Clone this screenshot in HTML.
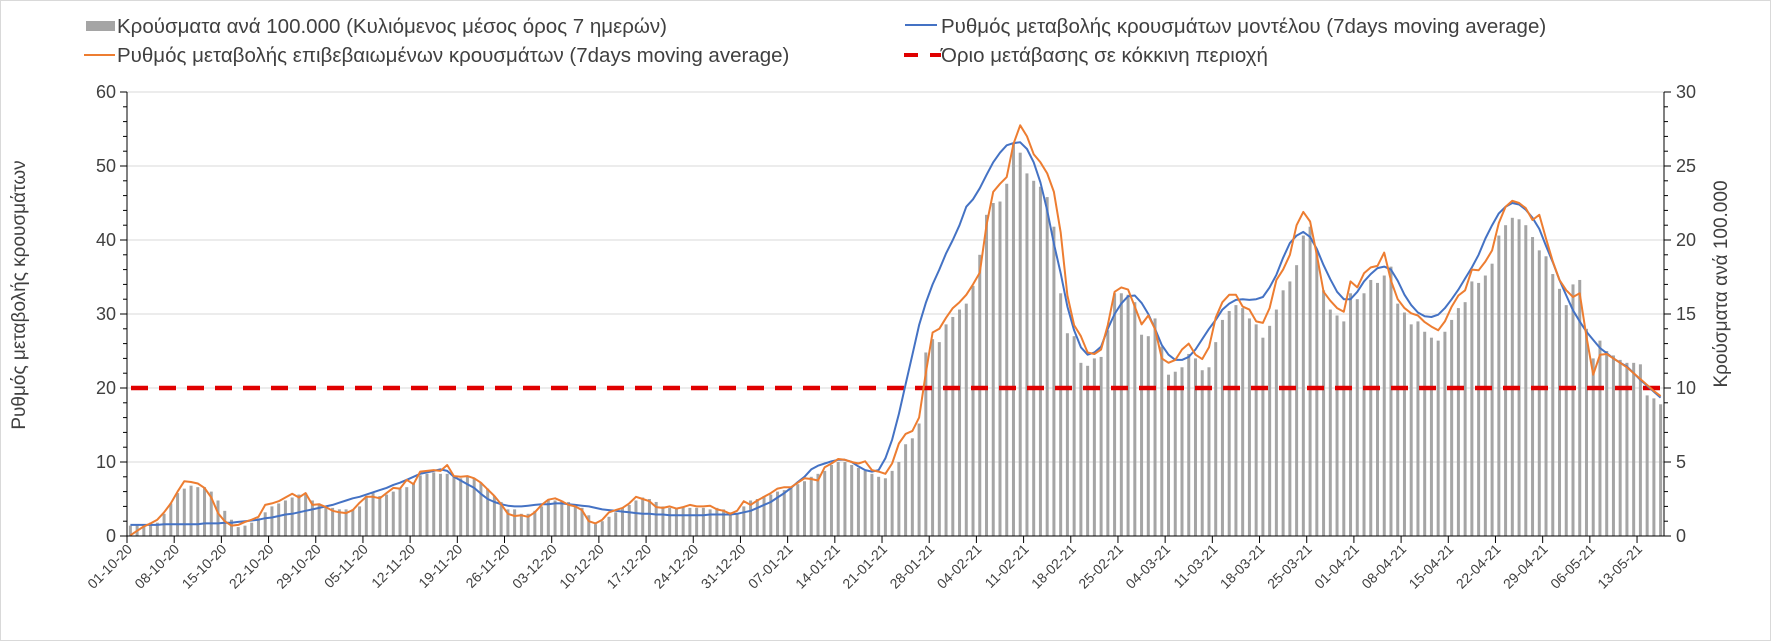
<!DOCTYPE html>
<html><head><meta charset="utf-8"><style>
html,body{margin:0;padding:0;background:#fff;}
#wrap{position:relative;width:1771px;height:641px;overflow:hidden;}
svg text{font-family:"Liberation Sans","DejaVu Sans",sans-serif;fill:#404040;}
</style></head><body>
<div id="wrap">
<svg id="chart" width="1771" height="641" xmlns="http://www.w3.org/2000/svg">
<rect x="0.5" y="0.5" width="1770" height="640" fill="#fff" stroke="#d9d9d9"/>
<g id="grid"></g>
<g id="bars"></g>
<g id="lines"></g>
<g id="axes"></g>
<g id="legend">
  <g>
    <rect x="86" y="21" width="29" height="10" fill="#a5a5a5"/>
    <text x="117" y="33" font-size="20.5">Κρούσματα ανά 100.000 (Κυλιόμενος μέσος όρος 7 ημερών)</text>
  </g>
  <g>
    <line x1="905" y1="25" x2="937" y2="25" stroke="#4472c4" stroke-width="2"/>
    <text x="941" y="33" font-size="20.5">Ρυθμός μεταβολής κρουσμάτων μοντέλου (7days moving average)</text>
  </g>
  <g>
    <line x1="84" y1="55" x2="115" y2="55" stroke="#ed7d31" stroke-width="2"/>
    <text x="117" y="62" font-size="20.5">Ρυθμός μεταβολής επιβεβαιωμένων κρουσμάτων (7days moving average)</text>
  </g>
  <g>
    <line x1="904" y1="55" x2="941" y2="55" stroke="#e00000" stroke-width="4" stroke-dasharray="14,12"/>
    <text x="941" y="62" font-size="20.5">Όριο μετάβασης σε κόκκινη περιοχή</text>
  </g>
</g>
<text x="0" y="0" font-size="19" text-anchor="middle" transform="translate(25,295) rotate(-90)">Ρυθμός μεταβολής κρουσμάτων</text>
<text x="0" y="0" font-size="19" text-anchor="middle" transform="translate(1727,284) rotate(-90)">Κρούσματα ανά 100.000</text>
</svg>
</div>
<script>
const cases = [0.7,0.8,0.8,0.9,0.9,1.5,2.2,2.9,3.2,3.4,3.3,3.3,3.0,2.4,1.7,1.1,0.6,0.7,0.9,1.2,1.6,2.0,2.2,2.4,2.6,2.8,2.9,2.4,2.2,2.0,1.9,1.8,1.8,1.8,2.0,2.7,2.9,2.7,2.8,3.0,3.2,3.3,3.6,4.1,4.2,4.3,4.2,4.2,4.0,3.9,4.0,3.9,3.6,3.2,2.7,2.3,1.8,1.8,1.5,1.5,1.7,2.0,2.4,2.4,2.4,2.3,2.0,1.9,1.4,0.8,1.0,1.3,1.6,1.9,2.1,2.4,2.6,2.5,2.3,2.0,1.9,1.9,2.0,1.9,1.9,1.9,1.8,1.9,1.8,1.6,1.5,2.0,2.4,2.5,2.7,2.8,3.0,3.1,3.3,3.5,
3.7,4.0,4.2,4.4,4.8,5.0,5.0,4.8,4.6,4.4,4.2,4.0,3.9,4.4,5.0,6.2,6.6,7.6,12.4,13.3,13.1,14.3,14.8,15.3,15.7,16.9,19.0,21.7,22.5,22.6,23.8,26.5,25.9,24.5,24.0,23.6,22.9,20.9,16.4,13.7,13.5,11.7,11.5,12.0,12.1,13.9,16.4,
16.4,16.3,15.8,13.6,13.5,14.7,12.8,10.9,11.1,11.4,12.3,12.0,11.2,11.4,13.1,14.6,15.2,15.6,15.4,14.7,14.3,13.4,14.2,15.3,16.6,17.2,18.3,20.3,20.9,19.3,16.6,15.3,14.9,14.5,16.4,16.0,16.4,17.3,17.1,17.6,18.2,15.7,15.1,14.3,14.5,13.8,13.4,13.2,13.8,14.6,15.4,
15.8,17.2,17.1,17.6,18.4,20.3,21.0,21.5,21.4,21.0,20.2,19.3,18.9,17.7,16.7,15.6,17.0,17.3,14.0,12.0,13.2,12.5,12.2,11.9,11.7,11.7,11.6,9.5,9.3,8.9];
const confirmed = [0.1,0.7,1.3,1.7,2.2,3.2,4.4,6.0,7.4,7.3,7.1,6.5,5.2,3.1,2.0,1.4,1.5,1.9,2.2,2.6,4.2,4.4,4.7,5.2,5.7,5.2,5.8,4.2,4.3,3.9,3.4,3.2,3.1,3.5,4.5,5.3,5.3,5.1,5.8,6.5,6.4,7.6,7.0,8.7,8.8,8.9,8.8,9.6,8.1,8.0,8.1,7.8,7.2,6.3,5.4,4.3,3.0,2.7,2.8,2.6,3.2,4.2,4.9,5.1,4.7,4.2,4.0,3.5,2.0,1.7,2.2,3.2,3.5,3.8,4.4,5.3,5.0,4.7,3.9,3.8,4.0,3.7,3.9,4.2,4.0,4.0,4.1,3.6,3.4,3.0,3.4,4.7,4.2,4.8,5.3,5.8,6.4,6.6,6.6,7.2,
7.8,7.7,7.5,9.3,9.8,10.4,10.3,10.0,9.8,10.1,8.9,8.7,8.4,9.8,12.5,13.8,14.2,16.0,22.0,27.5,28.0,29.5,30.8,31.6,32.6,34.0,35.6,42.0,46.5,47.6,48.5,53.0,55.5,54.0,51.6,50.5,49.0,46.5,41.0,32.5,28.5,27.0,24.8,24.6,25.2,28.5,33.0,
33.6,33.3,31.0,28.6,29.8,28.0,24.0,23.4,23.8,25.2,26.0,24.5,23.9,25.5,29.5,31.6,32.6,32.6,31.0,30.6,29.0,28.8,30.8,34.6,36.0,38.0,42.0,43.8,42.5,38.0,33.0,31.8,30.8,30.3,34.4,33.6,35.5,36.3,36.5,38.3,34.5,32.0,30.8,30.1,29.8,28.9,28.3,27.8,29.0,31.0,32.5,
33.2,36.0,35.9,37.1,38.6,42.3,44.5,45.3,45.0,44.3,42.7,43.4,40.2,37.1,34.6,33.2,32.3,32.8,26.9,21.8,24.5,24.6,24.0,23.4,22.8,22.0,21.2,20.4,19.6,18.9];
const model = [1.5,1.5,1.5,1.5,1.5,1.6,1.6,1.6,1.6,1.6,1.6,1.7,1.7,1.7,1.8,1.8,1.9,2.0,2.1,2.2,2.4,2.5,2.7,2.9,3.0,3.2,3.4,3.6,3.8,4.0,4.2,4.5,4.8,5.1,5.3,5.6,5.9,6.2,6.5,6.9,7.2,7.6,8.0,8.4,8.6,8.8,9.0,8.8,8.0,7.5,7.0,6.5,5.7,5.0,4.6,4.3,4.1,4.0,4.0,4.1,4.2,4.3,4.3,4.4,4.4,4.3,4.2,4.1,4.0,3.8,3.6,3.5,3.4,3.3,3.2,3.1,3.0,3.0,2.9,2.9,2.8,2.8,2.8,2.8,2.8,2.8,2.9,2.9,2.9,2.9,3.0,3.2,3.4,3.8,4.2,4.6,5.2,5.8,6.5,7.3,
8.0,9.0,9.5,9.8,10.1,10.3,10.3,10.0,9.4,8.9,8.7,8.9,10.5,13.0,16.5,20.5,24.5,28.5,31.5,34.0,36.0,38.2,40.0,42.0,44.5,45.5,47.0,48.8,50.5,51.8,52.8,53.1,53.2,52.3,50.5,47.8,44.0,39.5,35.5,31.0,27.8,25.5,24.5,24.8,25.6,28.0,30.0,
31.4,32.4,32.5,31.5,30.0,28.0,25.8,24.5,23.8,23.8,24.2,25.2,26.6,28.0,29.2,30.6,31.4,31.9,32.0,31.9,32.0,32.3,33.6,35.3,37.6,39.6,40.6,41.1,40.4,38.8,36.6,34.7,33.0,32.0,32.0,33.0,34.4,35.4,36.2,36.4,36.0,34.5,32.6,31.2,30.2,29.7,29.6,29.9,30.8,32.0,33.3,
34.8,36.3,38.0,40.2,42.0,43.6,44.5,45.0,44.8,44.1,43.0,41.5,39.2,37.0,34.6,32.5,30.5,29.0,27.6,26.5,25.4,24.7,24.0,23.4,22.9,22.0,21.1,20.3,19.5,18.7];
const threshold = [20];
const leftTicks = [0,10,20,30,40,50,60];
const rightTicks = [0,5,10,15,20,25,30];
const startDate = [2020,10,1];

const NS='http://www.w3.org/2000/svg';
const L=127,R=1664,T=92,B=536;
const N=cases.length;
const band=(R-L)/N;
const xAt=i=>L+band*(i+0.5);
const yL=v=>B-(v/60)*(B-T);
const yR=v=>B-(v/30)*(B-T);
function mk(tag,attrs,parent){const e=document.createElementNS(NS,tag);for(const k in attrs)e.setAttribute(k,attrs[k]);parent.appendChild(e);return e;}
const grid=document.getElementById('grid'),bars=document.getElementById('bars'),lines=document.getElementById('lines'),axes=document.getElementById('axes');

leftTicks.forEach(t=>{
  if(t>0){const g=mk('line',{x1:L,x2:R,y1:yL(t),y2:yL(t),stroke:'#d9d9d9','stroke-width':1},grid);
  
  }
  const tx=mk('text',{x:L-11,y:yL(t)+6,'font-size':18,'text-anchor':'end'},axes);
  tx.textContent=t;
  
  
});
rightTicks.forEach(t=>{
  const tx=mk('text',{x:R+12,y:yR(t)+6,'font-size':18,'text-anchor':'start'},axes);
  tx.textContent=t;
  
  
});
mk('line',{x1:L,x2:L,y1:T,y2:B,stroke:'#000','stroke-width':1},axes);
mk('line',{x1:R,x2:R,y1:T,y2:B,stroke:'#000','stroke-width':1},axes);
for(let v=0;v<=60;v+=2){const maj=v%10===0;mk('line',{x1:L-(maj?7:4),x2:L,y1:yL(v),y2:yL(v),stroke:'#000','stroke-width':1},axes);}
for(let v=0;v<=30;v+=1){const maj=v%5===0;mk('line',{x1:R,x2:R+(maj?7:4),y1:yR(v),y2:yR(v),stroke:'#000','stroke-width':1},axes);}

cases.forEach((v,i)=>{
  const r=mk('rect',{x:xAt(i)-1.5,y:yR(v),width:3,height:B-yR(v),fill:'#a5a5a5'},bars);
  
  
});
mk('line',{x1:L,x2:R,y1:B,y2:B,stroke:'#000','stroke-width':1},axes);

function path(arr,col,name){
  const d=arr.map((v,i)=>(i?'L':'M')+xAt(i).toFixed(1)+','+yL(v).toFixed(1)).join('');
  const p=mk('path',{d:d,fill:'none',stroke:col,'stroke-width':2,'stroke-linejoin':'round'},lines);
  
  
}
const th=mk('line',{x1:L+4,x2:R,y1:yL(threshold[0]),y2:yL(threshold[0]),stroke:'#e00000','stroke-width':4.5,'stroke-dasharray':'17,11'},lines);


path(model,'#4472c4','model-rate-line');
path(confirmed,'#ed7d31','confirmed-rate-line');

const d0=new Date(startDate[0],startDate[1]-1,startDate[2]);
for(let i=0;i<N;i+=7){
  const x=L+band*i;
  mk('line',{x1:x,x2:x,y1:B,y2:B+7,stroke:'#000','stroke-width':1},axes);
  const dt=new Date(d0.getTime()+i*86400000+3600000*3);
  const s=String(dt.getDate()).padStart(2,'0')+'-'+String(dt.getMonth()+1).padStart(2,'0')+'-'+String(dt.getFullYear()).slice(2);
  const tx=mk('text',{x:0,y:0,'font-size':14,'text-anchor':'end',transform:'translate('+(x+6)+','+(B+14)+') rotate(-45)'},axes);
  tx.textContent=s;
  
  
}
</script>
</body></html>
